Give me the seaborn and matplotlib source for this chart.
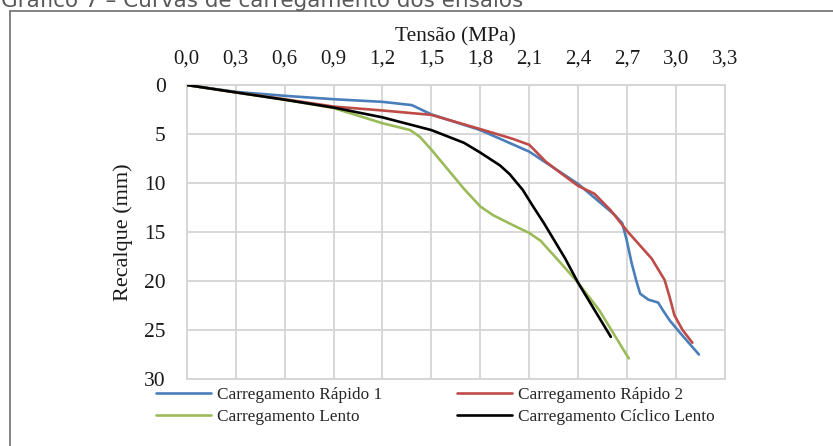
import numpy as np
import pandas as pd
import matplotlib
matplotlib.use("Agg")
import matplotlib.pyplot as plt
from matplotlib.lines import Line2D
import seaborn as sns

# ---- data ----
rap1_t = [0, 0.3, 0.6, 0.9, 1.2, 1.38, 1.5, 1.8, 2.1, 2.4, 2.62, 2.67, 2.697, 2.728, 2.76, 2.78, 2.83, 2.89, 2.92, 2.96, 3.02, 3.14]
rap1_r = [0, 0.7, 1.1, 1.45, 1.72, 2.05, 3.0, 4.6, 6.8, 10.1, 13.2, 14.1, 15.8, 18.2, 20.2, 21.3, 21.9, 22.2, 23.0, 24.0, 25.2, 27.5]

rap2_t = [0, 0.3, 0.6, 0.9, 1.2, 1.5, 1.8, 2.0, 2.1, 2.2, 2.27, 2.4, 2.5, 2.6, 2.7, 2.85, 2.93, 2.96, 2.99, 3.04, 3.1]
rap2_r = [0, 0.75, 1.45, 2.2, 2.6, 3.05, 4.5, 5.5, 6.1, 7.8, 8.7, 10.3, 11.1, 12.8, 14.9, 17.7, 19.9, 21.6, 23.5, 25.0, 26.3]

lento_t = [0, 0.3, 0.6, 0.9, 1.2, 1.37, 1.43, 1.5, 1.6, 1.7, 1.8, 1.88, 2.0, 2.1, 2.17, 2.3, 2.4, 2.53, 2.71]
lento_r = [0, 0.75, 1.5, 2.35, 3.9, 4.6, 5.3, 6.6, 8.6, 10.6, 12.4, 13.3, 14.3, 15.1, 15.9, 18.3, 20.2, 23.0, 27.9]

ciclico_t = [0, 0.3, 0.6, 0.9, 1.2, 1.5, 1.7, 1.8, 1.92, 1.98, 2.06, 2.12, 2.19, 2.32, 2.4, 2.6]
ciclico_r = [0, 0.75, 1.5, 2.3, 3.3, 4.6, 5.9, 6.9, 8.2, 9.1, 10.7, 12.3, 14.1, 17.7, 20.2, 25.7]

series_names = ["Carregamento Rápido 1", "Carregamento Rápido 2",
                "Carregamento Lento", "Carregamento Cíclico Lento"]
series_colors = ["#4A7EBB", "#BE4B48", "#9BBB59", "#000000"]

x_ticks = [0.0, 0.3, 0.6, 0.9, 1.2, 1.5, 1.8, 2.1, 2.4, 2.7, 3.0, 3.3]
x_tick_labels = ["0,0", "0,3", "0,6", "0,9", "1,2", "1,5", "1,8", "2,1", "2,4", "2,7", "3,0", "3,3"]
y_ticks = [0, 5, 10, 15, 20, 25, 30]

frames = []
for name, t, r in zip(series_names,
                      [rap1_t, rap2_t, lento_t, ciclico_t],
                      [rap1_r, rap2_r, lento_r, ciclico_r]):
    frames.append(pd.DataFrame({"Tensao": t, "Recalque": r, "Serie": name}))
df = pd.concat(frames, ignore_index=True)

sns.set_theme(style="white")
plt.rcParams["font.family"] = ["Liberation Serif", "DejaVu Serif"]

W, H = 833, 446
fig = plt.figure(figsize=(W / 100, H / 100), dpi=100)
ax = fig.add_axes([186.7 / W, 1 - 379 / H, (725 - 186.7) / W, (379 - 85) / H])

sns.lineplot(data=df, x="Tensao", y="Recalque", hue="Serie", hue_order=series_names,
             palette=series_colors, sort=False, estimator=None, linewidth=1.9,
             legend=False, ax=ax, zorder=3)

ax.set_xlim(0, 3.3)
ax.set_ylim(30, 0)
ax.set_xticks(x_ticks)
ax.set_xticklabels(x_tick_labels)
ax.set_yticks(y_ticks)
ax.xaxis.tick_top()
ax.xaxis.set_label_position("top")
ax.tick_params(axis="x", length=0, pad=12, labelsize=15, colors="#1a1a1a")
ax.tick_params(axis="y", length=0, pad=15, labelsize=15.5, colors="#1a1a1a")
ax.grid(True, color="#d4d4d4", linewidth=1.3)
for s in ax.spines.values():
    s.set_color("#d4d4d4")
    s.set_linewidth(1.3)
ax.set_xlabel("Tensão (MPa)", fontsize=15.5, color="#1a1a1a", labelpad=6)
ax.set_ylabel("Recalque (mm)", fontsize=16, color="#1a1a1a", labelpad=8)

# legend (row-wise order: R1, R2 / Lento, Cíclico)
handles = [Line2D([], [], color=c, lw=1.9) for c in series_colors]
order = [0, 2, 1, 3]
fig.legend([handles[i] for i in order], [series_names[i] for i in order],
           ncol=2, loc="upper left", bbox_to_anchor=(144 / W, 1 - 375 / H),
           frameon=False, fontsize=12.4, handlelength=3.2, handletextpad=0.35,
           columnspacing=4.3, labelspacing=0.36, borderpad=0.2)

# outer frame (left and top edges visible)
fig.add_artist(Line2D([10 / W, 10 / W], [0, 1 - 11 / H], transform=fig.transFigure,
                      color="#7a7a7a", lw=1.3))
fig.add_artist(Line2D([10 / W, 1], [1 - 11 / H, 1 - 11 / H], transform=fig.transFigure,
                      color="#7a7a7a", lw=1.3))

# cut-off caption at the top
fig.text(1 / W, 1 - 7 / H, "Gráfico 7 – Curvas de carregamento dos ensaios",
         fontsize=15.5, color="#595959", va="baseline", ha="left",
         family=["DejaVu Sans"])

fig.savefig("out.png", dpi=100)
